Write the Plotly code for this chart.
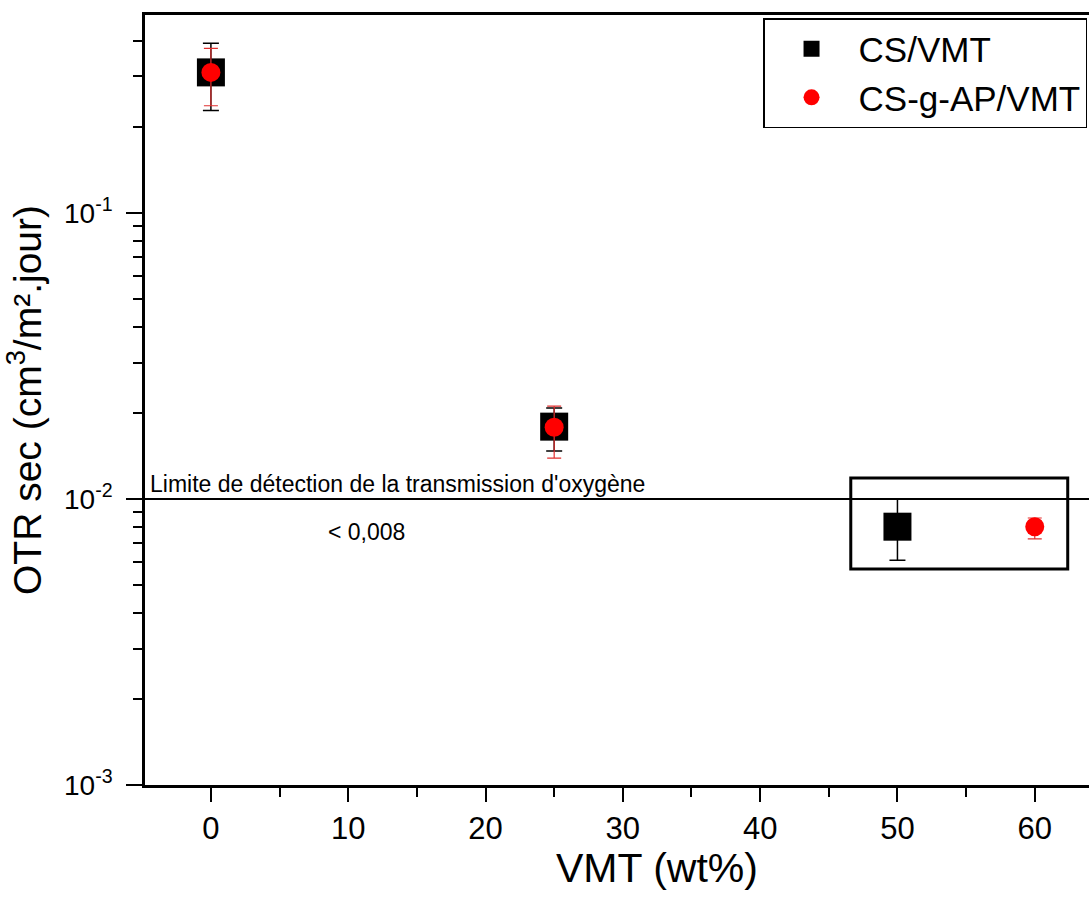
import plotly.graph_objects as go
import math

# ---- data ----
cs_x = [0, 25, 50]
cs_y = [0.31, 0.0179, 0.0080]
cs_err_plus = [0.392 - 0.31, 0.0208 - 0.0179, 0.0100 - 0.0080]
cs_err_minus = [0.31 - 0.228, 0.0179 - 0.0147, 0.0080 - 0.0061]

ap_x = [0, 25, 60]
ap_y = [0.31, 0.0178, 0.0080]
ap_err_plus = [0.376 - 0.31, 0.0211 - 0.0178, 0.00858 - 0.0080]
ap_err_minus = [0.31 - 0.237, 0.0178 - 0.0139, 0.0080 - 0.00725]

detection_limit = 0.01
x_ticks = [0, 10, 20, 30, 40, 50, 60]
y_ticks = [0.001, 0.01, 0.1]
y_ticktext = ["10<sup>-3</sup>", "10<sup>-2</sup>", "10<sup>-1</sup>"]
y_minor = [m * 10 ** e for e in (-3, -2, -1) for m in range(2, 10) if m * 10 ** e < 0.5]

FONT = "Arial, Liberation Sans, sans-serif"

fig = go.Figure()
fig.add_trace(go.Scatter(
    x=cs_x, y=cs_y, mode="markers", name="CS/VMT",
    marker=dict(symbol="square", size=28, color="black"),
    error_y=dict(type="data", array=cs_err_plus, arrayminus=cs_err_minus,
                 color="black", thickness=1.5, width=8),
))
fig.add_trace(go.Scatter(
    x=ap_x, y=ap_y, mode="markers", name="CS-g-AP/VMT",
    marker=dict(symbol="circle", size=19, color="#ff0000"),
    error_y=dict(type="data", array=ap_err_plus, arrayminus=ap_err_minus,
                 color="#e03030", thickness=1.2, width=7),
))

# detection limit line
fig.add_shape(type="line", xref="paper", x0=0, x1=1, yref="y",
              y0=detection_limit, y1=detection_limit,
              line=dict(color="black", width=2))
# highlight box
fig.add_shape(type="rect", xref="x", yref="y", x0=46.6, x1=62.4,
              y0=0.00569, y1=0.01184, line=dict(color="black", width=3))

fig.add_annotation(x=-4.6, y=math.log10(detection_limit), xref="x", yref="y",
                   text="Limite de détection de la transmission d'oxygène",
                   showarrow=False, xanchor="left", yanchor="bottom",
                   font=dict(family=FONT, size=23, color="black"))
fig.add_annotation(x=11.3, y=math.log10(0.00767), xref="x", yref="y",
                   text="&lt; 0,008", showarrow=False,
                   font=dict(family=FONT, size=23, color="black"))
# x-axis title (centred as in the original, whose frame continues to the right)
fig.add_annotation(x=0.542, y=-0.108, xref="paper", yref="paper",
                   text="VMT (wt%)", showarrow=False,
                   xanchor="center", yanchor="middle",
                   font=dict(family=FONT, size=41, color="black"))

fig.update_layout(
    width=1089, height=903,
    margin=dict(l=145, r=0, t=15, b=118),
    paper_bgcolor="white", plot_bgcolor="white",
    font=dict(family=FONT, color="black"),
    showlegend=True,
    legend=dict(x=0.6547, y=0.996, xanchor="left", yanchor="top",
                bgcolor="white", bordercolor="black", borderwidth=1.5,
                font=dict(family=FONT, size=35, color="black"),
                itemwidth=84, tracegroupgap=0),
    xaxis=dict(range=[-4.8, 63.95], tickvals=x_ticks, showgrid=False,
               automargin=False,
               zeroline=False, showline=True, linecolor="black", linewidth=2.5,
               mirror=True, ticks="outside", ticklen=14, tickwidth=2,
               tickcolor="black", tickfont=dict(size=31, family=FONT),
               minor=dict(dtick=5, ticks="outside", ticklen=9, tickwidth=2,
                          tickcolor="black", showgrid=False)),
    yaxis=dict(type="log", range=[-3, -0.308], showgrid=False, zeroline=False,
               automargin=False,
               showline=True, linecolor="black", linewidth=2.5,
               ticks="outside", ticklen=16, tickwidth=2, tickcolor="black",
               tickvals=y_ticks, ticktext=y_ticktext, ticklabelstandoff=8,
               tickfont=dict(size=28, family=FONT),
               minor=dict(tickvals=y_minor, ticks="outside", ticklen=9,
                          tickwidth=2, tickcolor="black", showgrid=False),
               title=dict(text="OTR sec (cm<sup>3</sup>/m².jour)",
                          font=dict(size=39, family=FONT), standoff=12)),
)

fig.write_html(
    "out.html",
    config={"displayModeBar": False},
    post_script="document.body.style.margin='0px';document.body.style.overflow='hidden';",
)
